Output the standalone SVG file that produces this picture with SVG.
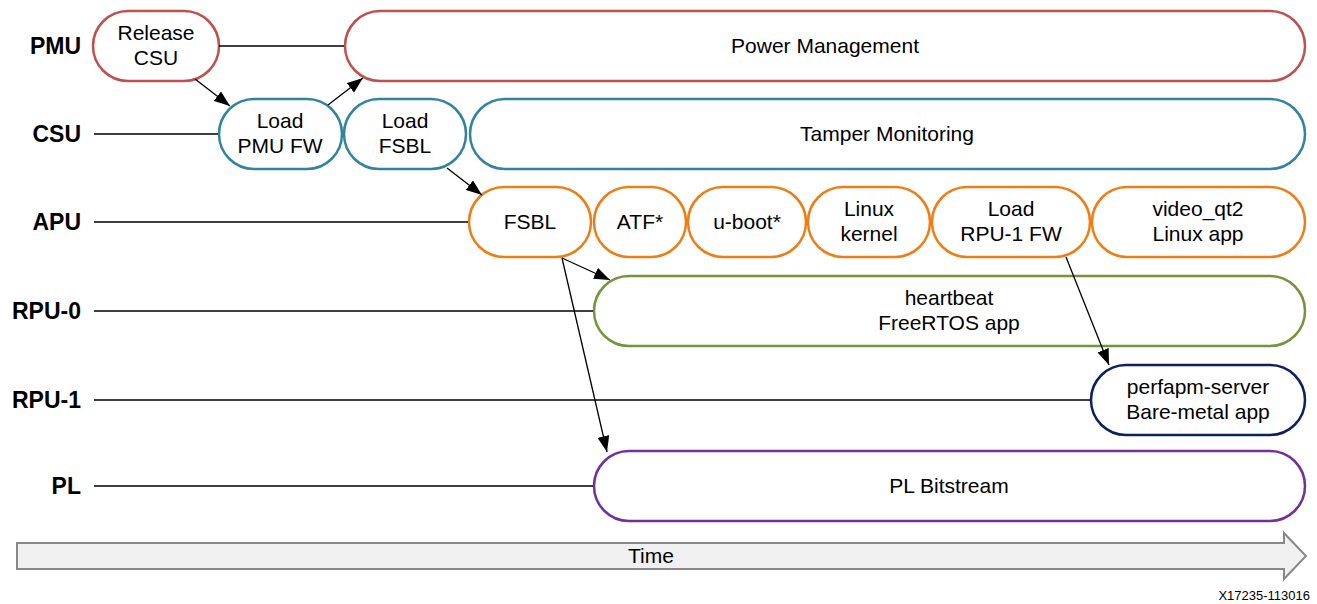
<svg xmlns="http://www.w3.org/2000/svg" width="1317" height="604" viewBox="0 0 1317 604">
<defs>
<style>
.n{fill:#fff;stroke-width:2.5}
.pmu{stroke:#c0504d}.csu{stroke:#31849b}.apu{stroke:#ef7d16}.rpu0{stroke:#77933c}.rpu1{stroke:#0f2060}.pl{stroke:#7030a0}
.t{font-family:"Liberation Sans",Arial,sans-serif;font-size:21px;fill:#000;text-anchor:middle}
.lb{font-family:"Liberation Sans",Arial,sans-serif;font-size:23px;font-weight:bold;fill:#000;text-anchor:end}
.ln{stroke:#000;stroke-width:1.3;fill:none}
.ar{stroke:#000;stroke-width:1.3;fill:none;marker-end:url(#ah)}
</style>
<marker id="ah" viewBox="0 0 16 12" refX="16" refY="6" markerWidth="16" markerHeight="12" markerUnits="userSpaceOnUse" orient="auto"><path d="M0,0 L16,6 L0,12 Z" fill="#000"/></marker>
</defs>
<rect width="1317" height="604" fill="#fff"/>
<g id="lanes">
<text class="lb" x="81" y="54">PMU</text>
<text class="lb" x="81" y="142">CSU</text>
<text class="lb" x="81" y="230">APU</text>
<text class="lb" x="81" y="319">RPU-0</text>
<text class="lb" x="81" y="408">RPU-1</text>
<text class="lb" x="81" y="494">PL</text>
</g>
<g id="release-csu"><rect class="n pmu" x="93" y="11" width="126" height="70" rx="35"/><text class="t" x="156" y="40">Release</text><text class="t" x="156" y="65">CSU</text></g>
<g id="power-management"><rect class="n pmu" x="345" y="11" width="960" height="70" rx="35"/><text class="t" x="825" y="53">Power Management</text></g>
<g id="load-pmu-fw"><rect class="n csu" x="219" y="99" width="123" height="70" rx="35"/><text class="t" x="280" y="128">Load</text><text class="t" x="280" y="153">PMU FW</text></g>
<g id="load-fsbl"><rect class="n csu" x="344" y="99" width="122" height="70" rx="35"/><text class="t" x="405" y="128">Load</text><text class="t" x="405" y="153">FSBL</text></g>
<g id="tamper"><rect class="n csu" x="470" y="99" width="835" height="70" rx="35"/><text class="t" x="887" y="141">Tamper Monitoring</text></g>
<g id="fsbl"><rect class="n apu" x="469" y="187" width="122" height="70" rx="35"/><text class="t" x="530" y="229">FSBL</text></g>
<g id="atf"><rect class="n apu" x="594" y="187" width="92" height="70" rx="35"/><text class="t" x="640" y="229">ATF*</text></g>
<g id="uboot"><rect class="n apu" x="688" y="187" width="118" height="70" rx="35"/><text class="t" x="747" y="229">u-boot*</text></g>
<g id="linux-kernel"><rect class="n apu" x="808" y="187" width="122" height="70" rx="35"/><text class="t" x="869" y="216">Linux</text><text class="t" x="869" y="241">kernel</text></g>
<g id="load-rpu1-fw"><rect class="n apu" x="932" y="187" width="158" height="70" rx="35"/><text class="t" x="1011" y="216">Load</text><text class="t" x="1011" y="241">RPU-1 FW</text></g>
<g id="video-qt2"><rect class="n apu" x="1092" y="187" width="213" height="70" rx="35"/><text class="t" x="1198" y="216">video_qt2</text><text class="t" x="1198" y="241">Linux app</text></g>
<g id="heartbeat"><rect class="n rpu0" x="594" y="276" width="711" height="70" rx="35"/><text class="t" x="949" y="305">heartbeat</text><text class="t" x="949" y="330">FreeRTOS app</text></g>
<g id="perfapm"><rect class="n rpu1" x="1091" y="365" width="214" height="70" rx="35"/><text class="t" x="1198" y="394">perfapm-server</text><text class="t" x="1198" y="419">Bare-metal app</text></g>
<g id="pl-bitstream"><rect class="n pl" x="594" y="451" width="711" height="70" rx="35"/><text class="t" x="949" y="493">PL Bitstream</text></g>
<g id="connectors">
<line class="ln" x1="219" y1="46" x2="344" y2="46"/>
<line class="ln" x1="94" y1="134" x2="218" y2="134"/>
<line class="ln" x1="94" y1="222" x2="468" y2="222"/>
<line class="ln" x1="94" y1="311" x2="593" y2="311"/>
<line class="ln" x1="94" y1="400" x2="1090" y2="400"/>
<line class="ln" x1="94" y1="486" x2="593" y2="486"/>
<line class="ar" x1="195" y1="79" x2="230" y2="106"/>
<line class="ar" x1="328" y1="105" x2="363" y2="78"/>
<line class="ar" x1="447" y1="168" x2="482" y2="195"/>
<line class="ar" x1="562" y1="258" x2="610" y2="280"/>
<line class="ar" x1="562" y1="258" x2="607" y2="452"/>
<line class="ar" x1="1066" y1="257" x2="1109" y2="365"/>
</g>
<g id="time">
<path d="M17,543 H1284 V533 L1306,556 L1284,579 V569 H17 Z" fill="#f0f0f0" stroke="#888" stroke-width="2"/>
<text class="t" x="651" y="563">Time</text>
</g>
<text x="1310" y="600" style="font-family:'Liberation Sans',Arial,sans-serif;font-size:13px;text-anchor:end">X17235-113016</text>
</svg>
